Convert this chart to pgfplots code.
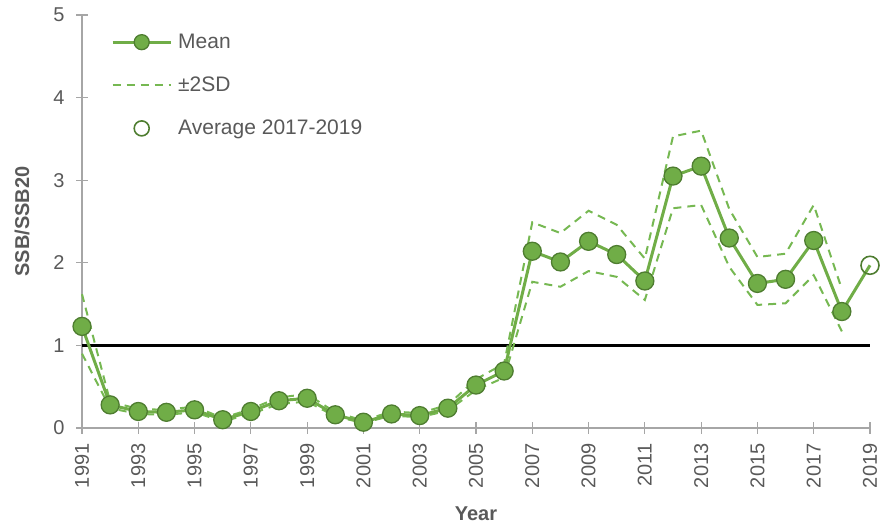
\documentclass[border=0pt]{standalone}
\usepackage{fontspec}
\setmainfont{Liberation Sans}
\usepackage{pgfplots}
\usepackage{pgfplotstable}
\pgfplotsset{compat=1.18}
\definecolor{xgreen}{HTML}{70AD47}
\definecolor{xedge}{HTML}{4E7D30}
\definecolor{xdash}{HTML}{76B852}
\definecolor{axgray}{HTML}{A6A6A6}
\definecolor{txtgray}{HTML}{595959}
\pgfplotstableread{
year mean lo hi
1991 1.23 0.90 1.62
1992 0.28 0.24 0.32
1993 0.20 0.17 0.23
1994 0.19 0.16 0.22
1995 0.22 0.19 0.26
1996 0.10 0.08 0.12
1997 0.20 0.17 0.23
1998 0.33 0.29 0.37
1999 0.36 0.32 0.41
2000 0.16 0.14 0.19
2001 0.07 0.06 0.09
2002 0.17 0.15 0.20
2003 0.15 0.13 0.18
2004 0.24 0.21 0.28
2005 0.52 0.46 0.59
2006 0.69 0.61 0.78
2007 2.14 1.77 2.49
2008 2.01 1.71 2.36
2009 2.26 1.90 2.63
2010 2.10 1.83 2.46
2011 1.78 1.55 2.05
2012 3.05 2.66 3.53
2013 3.17 2.70 3.60
2014 2.30 1.95 2.65
2015 1.75 1.49 2.07
2016 1.80 1.51 2.11
2017 2.27 1.85 2.70
2018 1.41 1.17 1.68
2019 1.97 nan nan
}\ssbdata
\pgfplotstableread{
year avg
2019 1.97
}\avgdata
\begin{document}
\begin{tikzpicture}
\begin{axis}[
  scale only axis,
  width=788pt, height=413pt,
  xmin=1991, xmax=2019, ymin=0, ymax=5,
  clip=false,
  axis lines=left,
  axis line style={draw=axgray, line width=1.2pt, -},
  tick style={draw=axgray, line width=1.2pt},
  tick align=center,
  major tick length=12pt,
  xtick={1991,1993,...,2019},
  ytick={0,1,2,3,4,5},
  /pgf/number format/1000 sep={},
  /pgf/number format/assume math mode=true,
  ticklabel style={font=\fontsize{20}{24}\selectfont, text=txtgray},
  xticklabel style={yshift=-6pt, rotate=90, anchor=east},
  yticklabel style={anchor=east, xshift=-8pt},
  xlabel={Year},
  ylabel={SSB/SSB20},
  every axis x label/.style={at={(axis description cs:0.5,0)}, yshift=-86pt, anchor=center,
    font=\bfseries\fontsize{20}{24}\selectfont, text=txtgray},
  every axis y label/.style={at={(axis description cs:0,0.5)}, xshift=-60pt, rotate=90, anchor=center,
    font=\bfseries\fontsize{20}{24}\selectfont, text=txtgray},
  unbounded coords=jump,
  legend cell align=left,
  legend style={draw=none, fill=none, at={(0,1)}, anchor=north west, xshift=26pt, yshift=-15pt,
    row sep=23pt, font=\fontsize{21}{25}\selectfont, text=txtgray,
    nodes={inner sep=2pt}},
]
\addlegendimage{legend image code/.code={
  \draw[xgreen, line width=3pt] (0pt,0pt) -- (58pt,0pt);
  \filldraw[fill=xgreen, draw=xedge, line width=1.3pt] (29pt,0pt) circle (7.5pt);}}
\addlegendentry{\hspace{4pt}Mean}
\addlegendimage{legend image code/.code={
  \draw[xdash, line width=2pt, dash pattern=on 8pt off 6pt] (0pt,0pt) -- (58pt,0pt);}}
\addlegendentry{\hspace{4pt}±2SD}
\addlegendimage{legend image code/.code={
  \draw[draw=xedge, line width=1.6pt] (29pt,0pt) circle (7.5pt);}}
\addlegendentry{\hspace{4pt}Average 2017-2019}

\addplot[black, line width=3.5pt, forget plot] coordinates {(1991,1) (2019,1)};
\addplot[xdash, line width=2pt, dash pattern=on 8pt off 6pt, forget plot] table[x=year, y=hi] {\ssbdata};
\addplot[xdash, line width=2pt, dash pattern=on 8pt off 6pt, forget plot] table[x=year, y=lo] {\ssbdata};
\addplot[xgreen, line width=3pt, forget plot] table[x=year, y=mean] {\ssbdata};
\addplot[only marks, mark=*, mark size=9pt, mark options={fill=xgreen, draw=xedge, line width=1.3pt},
  skip coords between index={28}{29}, forget plot] table[x=year, y=mean] {\ssbdata};
\addplot[only marks, mark=o, mark size=9pt, mark options={draw=xedge, line width=1.6pt, fill=white}, forget plot]
  table[x=year, y=avg] {\avgdata};
\end{axis}
\pgfresetboundingbox
\path ([shift={(-82pt,-101pt)}]current axis.south west) rectangle ([shift={(13pt,15pt)}]current axis.north east);
\end{tikzpicture}
\end{document}
